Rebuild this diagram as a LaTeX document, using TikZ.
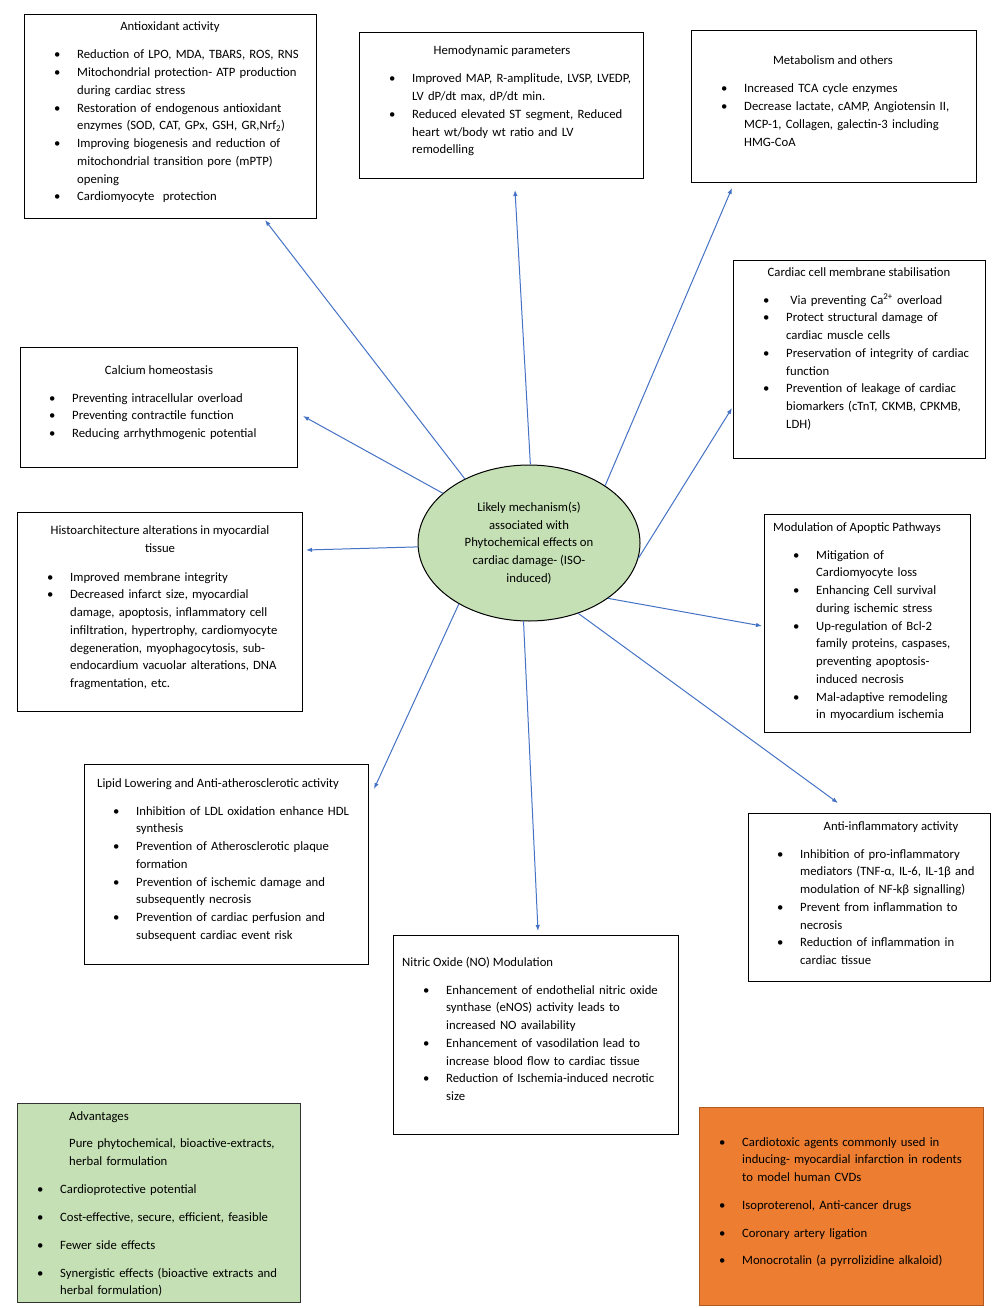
\documentclass[tikz,border=0pt]{standalone}
\usepackage{fontspec}
\setmainfont{Carlito}
\usetikzlibrary{shapes.geometric}
\usetikzlibrary{arrows.meta}

\definecolor{mechgreen}{HTML}{C5E0B4}
\definecolor{agentorange}{HTML}{ED7D31}
\definecolor{agentedge}{HTML}{AE5A21}
\definecolor{arrowblue}{HTML}{4472C4}

\newcommand{\bullitem}[1]{\makebox[23pt][l]{\textbullet}#1}
\newcommand{\contline}[1]{\hspace*{23pt}#1}

\begin{document}
\begin{tikzpicture}[x=1pt,y=-1pt]
	\tikzstyle{every node}=[font=\fontsize{12.7pt}{17.75pt}\selectfont, inner sep=0pt]
	\tikzstyle{effectbox}=[rectangle, draw, line width=1pt, anchor=north west]
	\tikzstyle{boxtitle}=[anchor=base]
	\tikzstyle{boxlist}=[anchor=base west, text width=320pt, align=left]
	\tikzstyle{effect}=[draw=arrowblue, line width=1pt, -{Latex[length=6pt,width=4.5pt]}]

	\useasboundingbox (0,0) rectangle (1000,1308);

	% centre
	\node[ellipse, draw, fill=mechgreen, line width=1pt, minimum width=222pt, minimum height=156pt, align=center] (mech) at (529,543)
	{Likely mechanism(s)\\associated with\\Phytochemical effects on\\cardiac damage- (ISO-\\induced)};

	% top row
	\node[effectbox, minimum width=292pt, minimum height=204pt] (antiox) at (24,14) {};
	\node[boxtitle] (antioxT) at (170,31) {Antioxidant activity};
	\node[boxlist] (antioxL) at (54,59) {\bullitem{Reduction of LPO, MDA, TBARS, ROS, RNS}\\
		\bullitem{Mitochondrial protection- ATP production}\\
		\contline{during cardiac stress}\\
		\bullitem{Restoration of endogenous antioxidant}\\
		\contline{enzymes (SOD, CAT, GPx, GSH, GR,Nrf\textsubscript{2})}\\
		\bullitem{Improving biogenesis and reduction of}\\
		\contline{mitochondrial transition pore (mPTP)}\\
		\contline{opening}\\
		\bullitem{Cardiomyocyte\ \ protection}};

	\node[effectbox, minimum width=284pt, minimum height=146pt] (hemo) at (359,32) {};
	\node[boxtitle] (hemoT) at (502,55) {Hemodynamic parameters};
	\node[boxlist] (hemoL) at (389,83) {\bullitem{Improved MAP, R-amplitude, LVSP, LVEDP,}\\
		\contline{LV dP/dt max, dP/dt min.}\\
		\bullitem{Reduced elevated ST segment, Reduced}\\
		\contline{heart wt/body wt ratio and LV}\\
		\contline{remodelling}};

	\node[effectbox, minimum width=285pt, minimum height=152pt] (metab) at (691,30) {};
	\node[boxtitle] (metabT) at (833,65) {Metabolism and others};
	\node[boxlist] (metabL) at (721,93) {\bullitem{Increased TCA cycle enzymes}\\
		\bullitem{Decrease lactate, cAMP, Angiotensin II,}\\
		\contline{MCP-1, Collagen, galectin-3 including}\\
		\contline{HMG-CoA}};

	% right column
	\node[effectbox, minimum width=252pt, minimum height=198pt] (membr) at (733,260) {};
	\node[boxtitle] (membrT) at (859,276) {Cardiac cell membrane stabilisation};
	\node[boxlist] (membrL) at (763,304) {\bullitem{\ Via preventing Ca\textsuperscript{2+} overload}\\
		\bullitem{Protect structural damage of}\\
		\contline{cardiac muscle cells}\\
		\bullitem{Preservation of integrity of cardiac}\\
		\contline{function}\\
		\bullitem{Prevention of leakage of cardiac}\\
		\contline{biomarkers (cTnT, CKMB, CPKMB,}\\
		\contline{LDH)}};

	\node[effectbox, minimum width=206pt, minimum height=218pt] (apopt) at (764,514) {};
	\node[boxtitle, anchor=base west] (apoptT) at (773,531) {Modulation of Apoptic Pathways};
	\node[boxlist] (apoptL) at (793,559) {\bullitem{Mitigation of}\\
		\contline{Cardiomyocyte loss}\\
		\bullitem{Enhancing Cell survival}\\
		\contline{during ischemic stress}\\
		\bullitem{Up-regulation of Bcl-2}\\
		\contline{family proteins, caspases,}\\
		\contline{preventing apoptosis-}\\
		\contline{induced necrosis}\\
		\bullitem{Mal-adaptive remodeling}\\
		\contline{in myocardium ischemia}};

	\node[effectbox, minimum width=242pt, minimum height=168pt] (inflam) at (748,813) {};
	\node[boxtitle] (inflamT) at (891,830) {Anti-inflammatory activity};
	\node[boxlist] (inflamL) at (777,858) {\bullitem{Inhibition of pro-inflammatory}\\
		\contline{mediators (TNF-α, IL-6, IL-1β and}\\
		\contline{modulation of NF-kβ signalling)}\\
		\bullitem{Prevent from inflammation to}\\
		\contline{necrosis}\\
		\bullitem{Reduction of inflammation in}\\
		\contline{cardiac tissue}};

	% left column
	\node[effectbox, minimum width=277pt, minimum height=120pt] (calc) at (20,347) {};
	\node[boxtitle] (calcT) at (159,374) {Calcium homeostasis};
	\node[boxlist] (calcL) at (49,402) {\bullitem{Preventing intracellular overload}\\
		\bullitem{Preventing contractile function}\\
		\bullitem{Reducing arrhythmogenic potential}};

	\node[effectbox, minimum width=285pt, minimum height=199pt] (histo) at (17,512) {};
	\node[boxtitle, align=center] (histoT) at (160,552) {Histoarchitecture alterations in myocardial\\tissue};
	\node[boxlist] (histoL) at (47,581) {\bullitem{Improved membrane integrity}\\
		\bullitem{Decreased infarct size, myocardial}\\
		\contline{damage, apoptosis, inflammatory cell}\\
		\contline{infiltration, hypertrophy, cardiomyocyte}\\
		\contline{degeneration, myophagocytosis, sub-}\\
		\contline{endocardium vacuolar alterations, DNA}\\
		\contline{fragmentation, etc.}};

	\node[effectbox, minimum width=284pt, minimum height=200pt] (lipid) at (84,764) {};
	\node[boxtitle, anchor=base west] (lipidT) at (97,787) {Lipid Lowering and Anti-atherosclerotic activity};
	\node[boxlist] (lipidL) at (113,815) {\bullitem{Inhibition of LDL oxidation enhance HDL}\\
		\contline{synthesis}\\
		\bullitem{Prevention of Atherosclerotic plaque}\\
		\contline{formation}\\
		\bullitem{Prevention of ischemic damage and}\\
		\contline{subsequently necrosis}\\
		\bullitem{Prevention of cardiac perfusion and}\\
		\contline{subsequent cardiac event risk}};

	% bottom
	\node[effectbox, minimum width=285pt, minimum height=199pt] (nitric) at (393,935) {};
	\node[boxtitle, anchor=base west] (nitricT) at (402,966) {Nitric Oxide (NO) Modulation};
	\node[boxlist] (nitricL) at (423,994) {\bullitem{Enhancement of endothelial nitric oxide}\\
		\contline{synthase (eNOS) activity leads to}\\
		\contline{increased NO availability}\\
		\bullitem{Enhancement of vasodilation lead to}\\
		\contline{increase blood flow to cardiac tissue}\\
		\bullitem{Reduction of Ischemia-induced necrotic}\\
		\contline{size}};

	\node[effectbox, fill=mechgreen, draw=black!80, minimum width=283pt, minimum height=199pt] (advant) at (17,1103) {};
	\node[boxlist] (advantL) at (37,1120) {\hspace*{32pt}Advantages\\[9.5pt]
		\hspace*{32pt}Pure phytochemical, bioactive-extracts,\\
		\hspace*{32pt}herbal formulation\\[10.25pt]
		\bullitem{Cardioprotective potential}\\[10.25pt]
		\bullitem{Cost-effective, secure, efficient, feasible}\\[10.25pt]
		\bullitem{Fewer side effects}\\[10.25pt]
		\bullitem{Synergistic effects (bioactive extracts and}\\
		\contline{herbal formulation)}};

	\node[effectbox, fill=agentorange, draw=agentedge, minimum width=284pt, minimum height=198pt] (agents) at (699,1107) {};
	\node[boxlist] (agentsL) at (719,1146) {\bullitem{Cardiotoxic agents commonly used in}\\
		\contline{inducing- myocardial infarction in rodents}\\
		\contline{to model human CVDs}\\[10.25pt]
		\bullitem{Isoproterenol, Anti-cancer drugs}\\[10.25pt]
		\bullitem{Coronary artery ligation}\\[9.5pt]
		\bullitem{Monocrotalin (a pyrrolizidine alkaloid)}};

	% arrow ends
	\coordinate (toAntiox) at (265,220);
	\coordinate (toHemo) at (515,190);
	\coordinate (toMetab) at (732,188);
	\coordinate (toMembr) at (732,408);
	\coordinate (toCalc) at (303,416);
	\coordinate (toHisto) at (306,550);
	\coordinate (toApopt) at (762,626);
	\coordinate (toInflam) at (838,803);
	\coordinate (toNitric) at (538,931);
	\coordinate (toLipid) at (374,789);

	\draw[effect] (mech.135) -- (toAntiox);
	\draw[effect] (mech.89) -- (toHemo);
	\draw[effect] (mech.37) -- (toMetab);
	\draw[effect] (mech.-8) -- (toMembr);
	\draw[effect] (mech.150) -- (toCalc);
	\draw[effect] (mech.182) -- (toHisto);
	\draw[effect] (mech.-35) -- (toApopt);
	\draw[effect] (mech.-55) -- (toInflam);
	\draw[effect] (mech.-94) -- (toNitric);
	\draw[effect] (mech.-139) -- (toLipid);
\end{tikzpicture}
\end{document}
